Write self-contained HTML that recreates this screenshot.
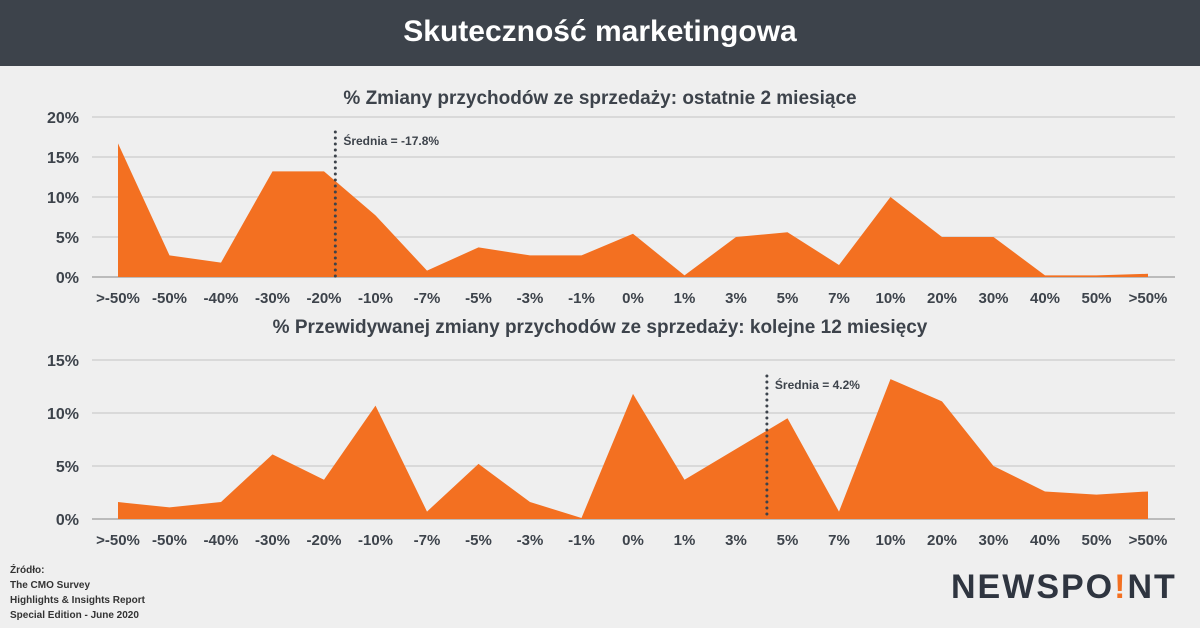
<!DOCTYPE html>
<html><head><meta charset="utf-8"><style>
body{margin:0;width:1200px;height:628px;background:#efefef;font-family:"Liberation Sans",sans-serif;overflow:hidden;position:relative}
.hdr{position:absolute;left:0;top:0;width:1200px;height:66px;background:#3d434b;color:#fff;font-size:30px;font-weight:bold;text-align:center;line-height:64px}
.src{position:absolute;left:10px;top:563px;font-size:10px;font-weight:bold;color:#333;line-height:15px}
.logo{position:absolute;left:951px;top:568px;font-size:34px;font-weight:bold;color:#2f3540;letter-spacing:2px}
</style></head><body>
<div class="hdr">Skuteczność marketingowa</div>
<svg id="c" width="1200" height="628" style="position:absolute;left:0;top:0"></svg>
<div class="src">Źródło:<br>The CMO Survey<br>Highlights &amp; Insights Report<br>Special Edition - June 2020</div>
<div class="logo">NEWSPO<span style="color:#f37021">!</span>NT</div>
<script>
const categories=[">-50%","-50%","-40%","-30%","-20%","-10%","-7%","-5%","-3%","-1%","0%","1%","3%","5%","7%","10%","20%","30%","40%","50%",">50%"];
const topValues=[16.7,2.7,1.8,13.2,13.2,7.7,0.8,3.7,2.7,2.7,5.4,0.2,5.0,5.6,1.5,10.0,5.0,5.0,0.2,0.2,0.4];
const bottomValues=[1.6,1.1,1.6,6.1,3.7,10.7,0.7,5.2,1.6,0.1,11.8,3.7,6.6,9.5,0.7,13.2,11.1,5.0,2.6,2.3,2.6];
const topTicks=[0,5,10,15,20];
const bottomTicks=[0,5,10,15];
const topMean=-17.8, bottomMean=4.2;
const svg=document.getElementById('c');
const NS='http://www.w3.org/2000/svg';
function mk(t,a){const e=document.createElementNS(NS,t);for(const k in a)e.setAttribute(k,a[k]);svg.appendChild(e);return e;}
const x=i=>118+i*(1148-118)/(categories.length-1);
// mean position: fraction between category indices (approximation by linear scale over -20..-10 for top, 3..5 for bottom)
function meanX(m){const nums=categories.map(c=>parseFloat(c.replace('>','')));
 for(let i=1;i<categories.length-2;i++){const a=nums[i],b=nums[i+1];if(m>=a&&m<=b)return x(i)+(m-a)/(b-a)*(x(i+1)-x(i));}return x(0);}
function chart(vals,ticks,y0,pxPer,title,titleY,mean,meanTop,nm){
 const y=v=>y0-v*pxPer;
 let t=mk('text',{x:600,y:titleY,'text-anchor':'middle','font-size':19,'font-weight':'bold',fill:'#3d434b'});t.textContent=title;
 
 ticks.forEach(v=>{const l=mk('line',{x1:92,x2:1175,y1:y(v),y2:y(v),stroke:v?'#d2d2d2':'#aaa','stroke-width':v?1.5:1.5});
  
  const tx=mk('text',{x:79,y:y(v)+6,'text-anchor':'end','font-size':16,'font-weight':'bold',fill:'#3d434b'});tx.textContent=v+'%';
  });
 let d='M'+x(0)+','+y(0);vals.forEach((v,i)=>d+=' L'+x(i)+','+y(v));d+=' L'+x(vals.length-1)+','+y(0)+'Z';
 const p=mk('path',{d:d,fill:'#f37021'});
 categories.forEach((c,i)=>{const tx=mk('text',{x:x(i),y:y0+26,'text-anchor':'middle','font-size':15,'font-weight':'bold',fill:'#3d434b'});tx.textContent=c;
  });
 const mx=meanX(mean);
 const ml=mk('line',{x1:mx,x2:mx,y1:meanTop,y2:y0,stroke:'#3d434b','stroke-width':3,'stroke-dasharray':'0 6','stroke-linecap':'round'});
 
 const mt=mk('text',{x:mx+8,y:meanTop+13,'font-size':12,'font-weight':'bold',fill:'#3d434b'});mt.textContent='Średnia = '+mean+'%';
 
}
chart(topValues,topTicks,277,8,'% Zmiany przychodów ze sprzedaży: ostatnie 2 miesiące',104,topMean,132,'top-chart');
chart(bottomValues,bottomTicks,519,10.6,'% Przewidywanej zmiany przychodów ze sprzedaży: kolejne 12 miesięcy',333,bottomMean,376,'bottom-chart');
</script>
</body></html>
